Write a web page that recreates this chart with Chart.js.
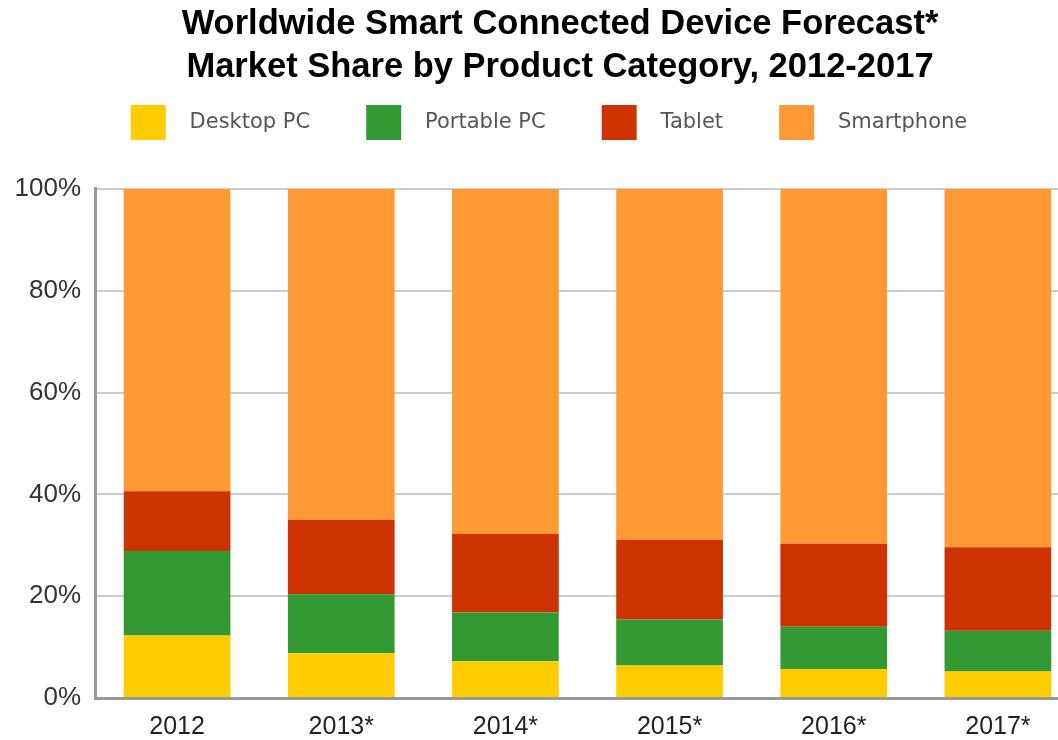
<!DOCTYPE html>
<html>
<head>
<meta charset="utf-8">
<script src="https://cdn.jsdelivr.net/npm/chart.js@4"></script>
<style>
  html, body { margin: 0; padding: 0; background: #fff; overflow: hidden; }
  #wrap { width: 1080px; height: 740px; position: relative; }
</style>
</head>
<body>
<div id="wrap"><canvas id="shareChart"></canvas></div>
<script>
const years = ["2012", "2013*", "2014*", "2015*", "2016*", "2017*"];

const desktopPC  = [12.3, 8.8, 7.2, 6.4, 5.7, 5.2];
const portablePC = [16.6, 11.6, 9.6, 9.0, 8.3, 8.0];
const tablet     = [11.7, 14.6, 15.4, 15.7, 16.3, 16.4];
const smartphone = [59.4, 65.0, 67.8, 68.9, 69.7, 70.4];

const yTicks = [0, 20, 40, 60, 80, 100];

const titleLines = [
    "Worldwide Smart Connected Device Forecast*",
    "Market Share by Product Category, 2012-2017"
];

function series(label, data, color) {
    return {
        label: label,
        data: data,
        backgroundColor: color,
        borderWidth: 0,
        categoryPercentage: 0.65,
        barPercentage: 1.0
    };
}

// the source image is cropped on the right, so nudge title/legend centre to the right
const nudgeHeader = {
    id: "nudgeHeader",
    afterLayout(chart) {
        chart.titleBlock.left += 40;
        chart.legend.left += 58;
    }
};

new Chart(document.getElementById("shareChart"), {
    type: "bar",
    data: {
        labels: years,
        datasets: [
            series("Desktop PC", desktopPC, "#ffcc00"),
            series("Portable PC", portablePC, "#339933"),
            series("Tablet", tablet, "#cc3300"),
            series("Smartphone", smartphone, "#ff9933")
        ]
    },
    plugins: [nudgeHeader],
    options: {
        responsive: true,
        maintainAspectRatio: false,
        animation: false,
        layout: {
            padding: { left: 0, right: 0, top: 0, bottom: 0 }
        },
        plugins: {
            title: {
                display: true,
                text: titleLines,
                color: "#000",
                font: { family: "Liberation Sans, Arial, sans-serif", size: 34.5, weight: "bold", lineHeight: 1.246 },
                padding: { top: 3, bottom: 0 }
            },
            legend: {
                display: true,
                position: "top",
                labels: {
                    boxWidth: 35,
                    boxHeight: 35,
                    padding: 16,
                    color: "#555",
                    font: { family: "DejaVu Sans, sans-serif", size: 21 },
                    // extra spaces widen the gaps around the legend text
                    generateLabels: function (chart) {
                        const items = Chart.defaults.plugins.legend.labels.generateLabels(chart);
                        items.forEach(it => { it.text = "  " + it.text + "      "; });
                        return items;
                    }
                }
            },
            tooltip: { enabled: false }
        },
        scales: {
            x: {
                stacked: true,
                grid: { display: false, drawTicks: false },
                border: { display: true, color: "#999", width: 3 },
                afterFit: function (axis) {
                    axis.height = 42;
                },
                ticks: {
                    color: "#222",
                    padding: 14,
                    font: { family: "Liberation Sans, Arial, sans-serif", size: 25 }
                }
            },
            // empty top axis, only used as a gap between legend and plot
            gap: {
                type: "category",
                position: "top",
                grid: { display: false, drawTicks: false },
                border: { display: false },
                ticks: { display: false },
                afterFit: function (axis) {
                    axis.height = 39;
                }
            },
            y: {
                stacked: true,
                min: 0,
                max: 100,
                afterBuildTicks: function (axis) {
                    axis.ticks = yTicks.map(v => ({ value: v }));
                },
                afterFit: function (axis) {
                    axis.width = 95;
                },
                grid: { color: "#cccccc", lineWidth: 2, drawTicks: false },
                border: { display: true, color: "#999", width: 3 },
                ticks: {
                    color: "#333",
                    padding: 14,
                    font: { family: "Liberation Sans, Arial, sans-serif", size: 26 },
                    callback: v => v + "%"
                }
            }
        }
    }
});
</script>
</body>
</html>
